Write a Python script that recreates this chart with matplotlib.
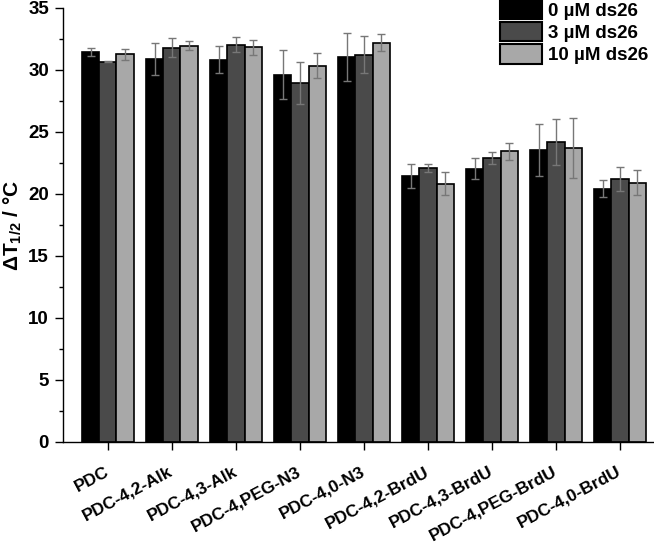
import matplotlib
matplotlib.use("Agg")
import matplotlib.pyplot as plt
import numpy as np
from matplotlib.transforms import ScaledTranslation
from matplotlib.patches import Patch

categories = ["PDC", "PDC-4,2-Alk", "PDC-4,3-Alk", "PDC-4,PEG-N3", "PDC-4,0-N3",
              "PDC-4,2-BrdU", "PDC-4,3-BrdU", "PDC-4,PEG-BrdU", "PDC-4,0-BrdU"]
series_names = ["0 µM ds26", "3 µM ds26", "10 µM ds26"]
vals_0 = [31.45, 30.89, 30.83, 29.62, 31.02, 21.48, 22.04, 23.52, 20.43]
vals_3 = [30.67, 31.80, 32.04, 28.98, 31.24, 22.12, 22.93, 24.19, 21.21]
vals_10 = [31.27, 31.96, 31.85, 30.35, 32.20, 20.83, 23.44, 23.73, 20.91]
err_0 = [0.30, 1.26, 1.10, 1.97, 1.94, 0.97, 0.84, 2.10, 0.67]
err_3 = [0.05, 0.78, 0.60, 1.70, 1.50, 0.32, 0.48, 1.83, 0.97]
err_10 = [0.45, 0.35, 0.60, 1.00, 0.68, 0.92, 0.70, 2.40, 1.03]
y_ticks = [0, 5, 10, 15, 20, 25, 30, 35]

colors = ["#000000", "#4a4a4a", "#a8a8a8"]

plt.rcParams['font.family'] = ['Liberation Sans', 'DejaVu Sans']
plt.rcParams['font.weight'] = 'bold'
plt.rcParams['mathtext.fontset'] = 'custom'
plt.rcParams['mathtext.rm'] = 'Liberation Sans:bold'
plt.rcParams['mathtext.bf'] = 'Liberation Sans:bold'
plt.rcParams['mathtext.it'] = 'Liberation Sans:bold'

fig = plt.figure(figsize=(6.54, 5.44), dpi=100)
ax = fig.add_axes([63/654, 1-442/544, 1-63/654, 434/544])

x = np.arange(len(categories))
w = 0.27
for i, (vals, errs) in enumerate(zip([vals_0, vals_3, vals_10], [err_0, err_3, err_10])):
    ax.bar(x + (i-1)*w, vals, width=w, color=colors[i], edgecolor='black', linewidth=1.2,
           yerr=errs, error_kw=dict(ecolor='#777777', elinewidth=1.0, capsize=3.2, capthick=1.0),
           zorder=2)

ax.set_xlim(-0.70, 8.53)
ax.set_ylim(0, 35)
ax.set_yticks(y_ticks)
ax.set_yticks(np.arange(2.5, 35, 5), minor=True)
ax.set_xticks(x)
ax.set_xticklabels(categories, rotation=28, ha='right', va='center', rotation_mode='anchor',
                   fontsize=12.5, fontweight='bold')
for lab in ax.get_xticklabels():
    lab.set_transform(lab.get_transform() + ScaledTranslation(5/100, 0, fig.dpi_scale_trans))
ax.tick_params(axis='x', direction='out', length=6, width=1.0, pad=14.5)
ax.tick_params(axis='y', which='major', direction='out', length=6, width=1.0, labelsize=13.5, pad=4)
ax.tick_params(axis='y', which='minor', direction='out', length=3, width=1.0)
for lab in ax.get_yticklabels():
    lab.set_fontweight('bold')

ax.spines['top'].set_visible(False)
ax.spines['right'].set_visible(False)
ax.spines['left'].set_linewidth(1.0)
ax.spines['bottom'].set_linewidth(1.0)

ax.set_ylabel(r"$\Delta$T$_{1/2}$ / °C", fontsize=15, fontweight='bold')
ax.yaxis.set_label_coords((24-63)/591, 0.5)

handles = [Patch(facecolor=c, edgecolor='black', linewidth=1.5) for c in colors]
fig.legend(handles, series_names, loc='upper left', bbox_to_anchor=(500/654, 1.0),
           frameon=False, borderpad=0, borderaxespad=0,
           handlelength=2.25, handleheight=1.2, labelspacing=0.12, handletextpad=0.3,
           prop={'weight': 'bold', 'size': 13.5})

fig.savefig("out.png", dpi=100)
